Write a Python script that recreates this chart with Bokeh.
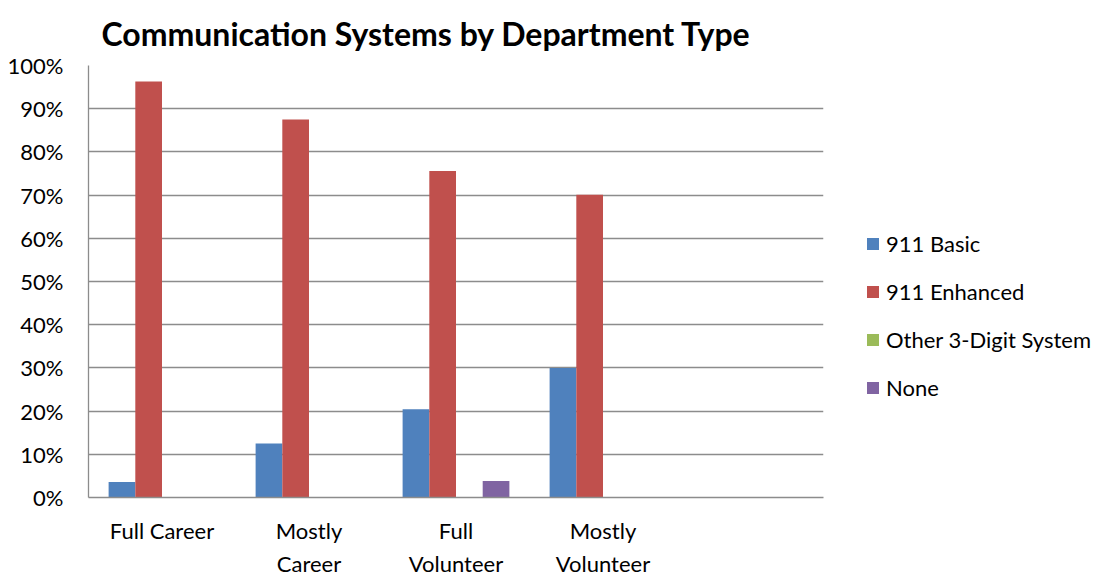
from bokeh.plotting import figure
from bokeh.models import Range1d, NumeralTickFormatter, FixedTicker, Legend, LegendItem, ColumnDataSource, LinearAxis
from bokeh.transform import dodge
from bokeh.embed import file_html
from bokeh.resources import INLINE

categories = ["Full Career", "Mostly Career", "Full Volunteer", "Mostly Volunteer", ""]
label_line1 = ["Full Career", "Mostly", "Full", "Mostly"]
label_line2 = ["", "Career", "Volunteer", "Volunteer"]
series = ["911 Basic", "911 Enhanced", "Other 3-Digit System", "None"]
basic = [0.036, 0.125, 0.204, 0.300, 0.0]
enhanced = [0.963, 0.875, 0.756, 0.701, 0.0]
other = [0.0, 0.0, 0.0, 0.0, 0.0]
none = [0.0, 0.0, 0.038, 0.0, 0.0]
colors = ["#4F81BD", "#C0504D", "#9BBB59", "#8064A2"]
y_ticks = [0, 0.1, 0.2, 0.3, 0.4, 0.5, 0.6, 0.7, 0.8, 0.9, 1.0]

FONT = "Lato"
pos = [i + 0.5 for i in range(len(categories))]
source = ColumnDataSource(dict(pos=pos, cat=categories, basic=basic, enhanced=enhanced, other=other, none=none))

p = figure(x_range=Range1d(0, len(categories)), y_range=Range1d(0, 1),
           frame_width=735, frame_height=432, output_backend="svg", toolbar_location=None,
           min_border_left=88, min_border_right=0, min_border_top=65, min_border_bottom=76)

bw = 0.1816
offsets = [-1.5 * bw, -0.5 * bw, 0.5 * bw, 1.5 * bw]
keys = ["basic", "enhanced", "other", "none"]
renderers = []
for k, off, c in zip(keys, offsets, colors):
    r = p.vbar(x=dodge("pos", off), top=k, width=bw, source=source,
               fill_color=c, line_color=None)
    renderers.append(r)

p.title.text = "Communication Systems by Department Type"
p.title.text_font = FONT
p.title.text_font_size = "32px"
p.title.text_font_style = "bold"
p.title.text_color = "#000000"
p.title.align = "left"
p.title.vertical_align = "top"
p.title.offset = 13
p.title.standoff = 22

p.outline_line_color = None
p.xgrid.grid_line_color = None
p.ygrid.grid_line_color = "#8C8C8C"
p.ygrid.grid_line_width = 1.3
p.yaxis.ticker = FixedTicker(ticks=y_ticks)
p.yaxis.formatter = NumeralTickFormatter(format="0%")

tick_pos = pos[:len(label_line1)]
p.xaxis.ticker = FixedTicker(ticks=tick_pos)
p.xaxis.major_label_overrides = {t: s for t, s in zip(tick_pos, label_line1)}

axis2 = LinearAxis(ticker=FixedTicker(ticks=tick_pos),
                   major_label_overrides={t: s for t, s in zip(tick_pos, label_line2)})
axis2.axis_line_color = None
p.add_layout(axis2, "below")

for ax in (p.xaxis[0], axis2, p.yaxis[0]):
    ax.major_tick_line_color = None
    ax.minor_tick_line_color = None
    ax.major_label_text_font = FONT
    ax.major_label_text_font_size = "22px"
    ax.major_label_text_color = "#000000"
for ax in (p.xaxis[0], p.yaxis[0]):
    ax.axis_line_color = "#8C8C8C"
    ax.axis_line_width = 1.3
p.yaxis.major_label_standoff = 19
p.xaxis[0].major_label_standoff = 13
axis2.major_label_standoff = -3

items = [LegendItem(label=s, renderers=[r]) for s, r in zip(series, renderers)]
legend = Legend(items=items, location=(42, 96), orientation="vertical",
                label_text_font=FONT, label_text_font_size="22px", label_text_color="#000000",
                glyph_width=15, glyph_height=15, label_height=20, label_standoff=6,
                spacing=21, padding=0, margin=0,
                border_line_color=None, background_fill_alpha=0)
p.add_layout(legend, "right")

open("out.html", "w").write(file_html(p, INLINE))
